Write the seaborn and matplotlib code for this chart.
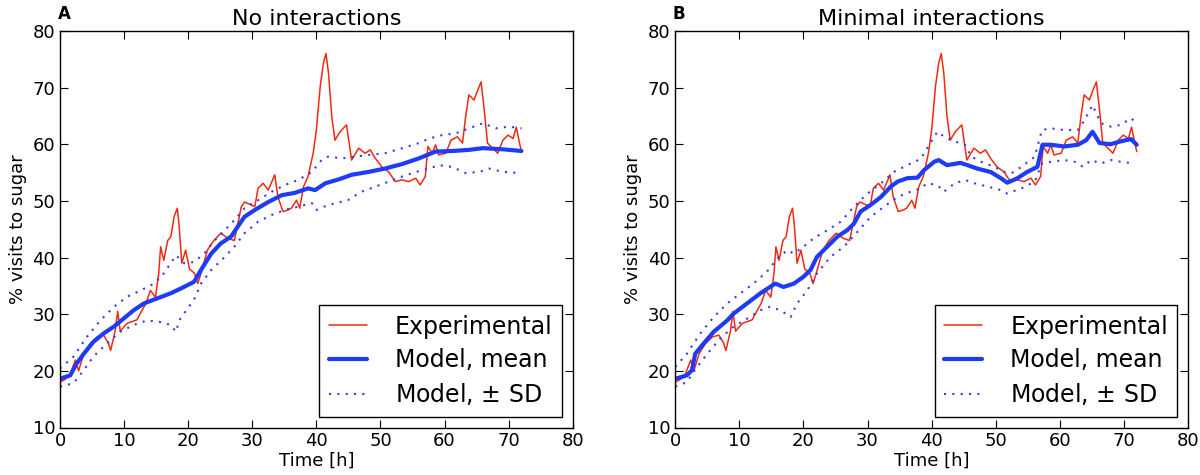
"""
Sugar visit share over time: experiment vs. model, two panels
(no interactions / minimal interactions).
"""

import matplotlib
matplotlib.use("Agg")
import matplotlib.pyplot as plt
import seaborn as sns

# --- experimental curve (same in both panels) ---
exp_t = [0, 0.8, 1.6, 2.4, 2.9, 3.7, 4.7, 5.8, 6.8, 7.5, 7.9, 8.6, 9.0, 9.4, 10.5,
         12.0, 12.8, 13.4, 14.1, 14.9, 15.4, 15.7, 16.2, 16.8, 17.3, 17.8, 18.3,
         18.6, 19.0, 19.6, 20.2, 21.0, 21.5, 22.0, 23.0, 24.0, 25.1, 26.2, 27.2,
         28.3, 28.8, 29.8, 30.4, 30.9, 31.7, 32.5, 33.5, 34.0, 34.8, 35.6, 36.1,
         36.9, 37.4, 38.0, 38.7, 39.5, 40.0, 40.6, 41.1, 41.5, 41.9, 42.4, 42.9,
         43.7, 44.7, 45.5, 46.6, 47.6, 48.4, 49.2, 50.2, 51.3, 52.3, 53.4, 54.4,
         55.5, 56.2, 57.0, 57.4, 58.1, 58.6, 59.1, 60.2, 61.0, 62.0, 62.8, 63.3,
         63.8, 64.6, 65.1, 65.7, 66.2, 66.7, 67.5, 68.3, 69.1, 69.9, 70.7, 71.2,
         71.7, 72.0]
exp_v = [18.0, 18.5, 19.5, 21.9, 20.0, 23.0, 24.8, 26.0, 26.3, 25.0, 23.6, 27.0, 30.5,
         27.0, 28.4, 29.0, 30.7, 31.9, 34.2, 33.0, 37.2, 41.9, 39.5, 43.0, 43.7, 47.2,
         48.7, 45.4, 39.0, 41.3, 38.0, 37.2, 35.4, 37.2, 41.3, 43.0, 44.3, 43.4, 43.0,
         49.0, 49.8, 49.3, 49.0, 52.2, 53.1, 51.9, 54.6, 50.7, 48.1, 48.4, 48.7, 50.1,
         48.7, 52.5, 54.3, 58.4, 62.5, 70.2, 74.3, 76.0, 72.5, 64.9, 60.7, 62.2, 63.4,
         57.2, 59.3, 58.4, 59.0, 57.5, 56.0, 55.1, 53.4, 53.7, 53.4, 54.0, 52.8, 54.3,
         59.6, 58.4, 59.9, 58.1, 58.4, 60.7, 61.3, 60.2, 64.9, 68.7, 67.8, 69.3, 71.0,
         66.0, 60.2, 59.3, 58.4, 60.7, 61.6, 61.0, 63.0, 60.2, 58.7]

# --- panel A: no interactions ---
a_mean_t = [0, 1.6, 2.6, 3.7, 5.2, 6.8, 8.4, 9.9, 11.5, 13.1, 15.2, 17.3, 18.8, 20.9,
            22.0, 23.6, 25.1, 26.7, 27.7, 28.8, 30.4, 32.5, 34.6, 36.6, 38.7, 39.8,
            41.4, 43.5, 45.5, 48.1, 50.7, 53.4, 56.0, 58.6, 61.2, 63.8, 66.0, 69.1, 72.0]
a_mean_v = [18.6, 19.2, 21.3, 23.0, 25.1, 26.6, 27.8, 29.2, 30.7, 31.9, 32.8, 33.7, 34.5,
            35.7, 37.8, 40.7, 42.5, 43.7, 45.4, 47.2, 48.4, 49.8, 51.0, 51.4, 52.2, 51.9,
            53.1, 53.8, 54.6, 55.1, 55.7, 56.5, 57.5, 58.7, 58.8, 59.0, 59.3, 59.1, 58.8]

a_hi_t = [0, 2.1, 4.2, 6.3, 8.4, 10.5, 12.6, 14.7, 16.2, 18.1, 19.4, 20.9, 22.5, 24.1,
          25.7, 27.2, 28.8, 30.9, 33.0, 35.1, 37.2, 39.3, 40.8, 41.8, 44.0, 46.1, 48.1,
          50.7, 53.4, 56.0, 57.6, 59.6, 61.7, 63.8, 66.0, 68.0, 70.1, 72.0]
a_hi_v = [20.4, 22.5, 26.0, 28.9, 31.3, 33.1, 34.2, 35.4, 37.2, 40.4, 39.0, 39.2, 40.7,
          43.0, 44.8, 46.6, 48.7, 50.1, 51.6, 52.8, 53.7, 55.1, 57.2, 57.8, 57.5, 57.8,
          58.1, 58.4, 59.3, 60.2, 61.0, 61.6, 61.9, 62.8, 63.7, 62.8, 63.1, 62.8]

a_lo_t = [0, 2.1, 3.7, 5.2, 7.3, 9.4, 11.5, 13.6, 15.7, 17.3, 18.1, 18.6, 19.9, 20.9,
          22.0, 23.6, 25.7, 27.2, 28.8, 30.9, 33.0, 35.1, 37.2, 39.3, 40.0, 41.9, 44.9,
          47.0, 49.2, 51.3, 53.4, 55.5, 57.6, 59.1, 61.2, 63.3, 65.4, 67.0, 69.1, 72.0]
a_lo_v = [17.2, 17.8, 20.1, 22.5, 24.8, 26.9, 28.1, 28.9, 28.6, 28.1, 26.9, 28.9, 31.0,
          32.5, 35.4, 37.8, 40.1, 41.9, 44.3, 46.3, 47.5, 48.4, 49.0, 49.6, 48.4, 49.3,
          50.1, 51.6, 52.5, 53.4, 54.3, 55.1, 55.7, 56.3, 56.0, 54.9, 55.1, 55.7, 55.1, 54.9]

# --- panel B: minimal interactions ---
b_mean_t = [0, 1.8, 2.6, 3.1, 4.4, 6.0, 8.1, 9.1, 11.2, 13.3, 15.6, 16.9, 18.5, 20.0,
            21.1, 22.1, 23.7, 25.3, 26.8, 27.9, 28.9, 30.5, 32.1, 33.6, 34.7, 36.2, 37.8,
            38.8, 40.4, 41.1, 42.4, 44.5, 45.6, 47.1, 49.2, 50.8, 51.8, 53.4, 54.9, 56.5,
            57.3, 58.6, 60.7, 62.8, 64.1, 65.1, 66.2, 67.9, 69.5, 71.1, 72.0]
b_mean_v = [18.6, 19.2, 20.1, 23.0, 24.8, 26.9, 28.9, 30.1, 31.9, 33.7, 35.4, 34.8, 35.4,
            36.6, 37.8, 40.1, 41.9, 43.7, 44.8, 46.0, 48.1, 49.3, 50.7, 52.5, 53.4, 54.0,
            54.1, 55.4, 56.9, 57.2, 56.3, 56.7, 56.3, 55.7, 55.1, 54.0, 53.2, 54.0, 55.1,
            56.0, 59.9, 59.9, 59.6, 59.9, 60.7, 62.2, 60.2, 60.0, 60.5, 60.9, 59.9]

b_hi_t = [0, 1.8, 3.9, 6.0, 8.1, 10.2, 12.2, 14.3, 15.9, 17.5, 18.5, 20.0, 21.6, 23.7,
          25.8, 27.9, 30.0, 32.1, 34.1, 36.2, 38.3, 39.8, 40.9, 42.0, 43.6, 45.2, 46.2,
          47.7, 49.8, 51.3, 52.5, 54.0, 56.1, 57.2, 58.6, 60.7, 62.8, 63.9, 65.1, 66.4,
          68.0, 69.5, 71.1, 72.0]
b_hi_v = [20.7, 23.0, 26.6, 29.5, 31.9, 33.7, 35.4, 37.5, 39.8, 41.3, 40.7, 41.9, 43.4,
          44.8, 46.3, 49.0, 51.3, 53.1, 55.1, 56.3, 57.4, 60.2, 62.2, 61.3, 60.5, 59.9,
          57.8, 56.9, 56.0, 55.1, 54.9, 56.0, 57.8, 62.5, 62.8, 62.5, 62.5, 64.3, 66.9,
          63.7, 63.1, 63.4, 64.6, 63.7]

b_lo_t = [0, 1.8, 3.4, 5.0, 7.0, 9.1, 11.2, 13.3, 14.8, 16.4, 18.0, 19.0, 20.6, 22.1,
          24.2, 26.3, 28.4, 30.5, 32.6, 34.7, 36.7, 38.3, 39.3, 40.9, 41.9, 43.6, 45.2,
          46.7, 48.8, 50.8, 51.8, 54.0, 56.1, 57.2, 58.6, 60.7, 62.3, 63.6, 64.9, 66.4,
          68.0, 69.5, 71.6]
b_lo_v = [17.2, 18.0, 20.7, 23.0, 25.7, 27.8, 29.2, 30.7, 31.3, 30.7, 29.5, 31.9, 34.2,
          37.2, 40.1, 41.9, 44.5, 47.2, 49.0, 50.7, 51.6, 52.2, 53.1, 52.8, 51.6, 53.1,
          53.7, 53.1, 52.5, 51.9, 51.3, 52.2, 53.4, 56.6, 56.9, 57.2, 56.9, 56.0, 57.2,
          56.6, 57.2, 56.9, 56.6]

RED = "#f02a10"
BLUE = "#1e3cf5"
DOT_BLUE = "#3a3ae6"

sns.set_style("ticks")
plt.rcParams["font.family"] = ["DejaVu Sans"]
plt.rcParams["text.color"] = "black"
plt.rcParams["axes.labelcolor"] = "black"
plt.rcParams["xtick.color"] = "black"
plt.rcParams["ytick.color"] = "black"


def draw_panel(ax, mean_t, mean_v, hi_t, hi_v, lo_t, lo_v, title, letter):
    sns.lineplot(x=exp_t, y=exp_v, ax=ax, color=RED, lw=1.1, estimator=None,
                 label="Experimental")
    sns.lineplot(x=mean_t, y=mean_v, ax=ax, color=BLUE, lw=3, estimator=None,
                 label="Model, mean")
    sns.lineplot(x=hi_t, y=hi_v, ax=ax, color=DOT_BLUE, lw=1.5, estimator=None,
                 linestyle=(0, (1, 3)), label="Model, $\\pm$ SD")
    sns.lineplot(x=lo_t, y=lo_v, ax=ax, color=DOT_BLUE, lw=1.5, estimator=None,
                 linestyle=(0, (1, 3)))

    ax.set_xlim(0, 80)
    ax.set_ylim(10, 80)
    ax.set_xticks(range(0, 81, 10))
    ax.set_yticks(range(10, 81, 10))
    ax.tick_params(direction="in", length=6, top=True, right=True, labelsize=13,
                   color="black", labelcolor="black")
    for sp in ax.spines.values():
        sp.set_visible(True)
        sp.set_color("black")
        sp.set_linewidth(1)
    ax.set_xlabel("Time [h]", fontsize=13, labelpad=1, color="black")
    ax.set_ylabel("% visits to sugar", fontsize=13, color="black")
    ax.set_title(title, fontsize=16, pad=4, color="black")
    ax.text(-0.005, 1.02, letter, transform=ax.transAxes, fontsize=12,
            fontweight="bold", ha="left", va="bottom", color="black")
    leg = ax.legend(loc="lower right", fontsize=17, fancybox=False, framealpha=1,
                    edgecolor="black", handlelength=1.6, handletextpad=1.2,
                    borderpad=0.4, labelspacing=0.4, borderaxespad=0.45)
    leg.get_frame().set_linewidth(1)
    for txt in leg.get_texts():
        txt.set_color("black")


fig, (ax_a, ax_b) = plt.subplots(1, 2, figsize=(12, 4.75), dpi=100)
fig.subplots_adjust(left=0.05, right=0.99, bottom=0.10, top=0.935, wspace=0.2)

draw_panel(ax_a, a_mean_t, a_mean_v, a_hi_t, a_hi_v, a_lo_t, a_lo_v,
           "No interactions", "A")
draw_panel(ax_b, b_mean_t, b_mean_v, b_hi_t, b_hi_v, b_lo_t, b_lo_v,
           "Minimal interactions", "B")

fig.savefig("out.png", dpi=100, facecolor="white")
